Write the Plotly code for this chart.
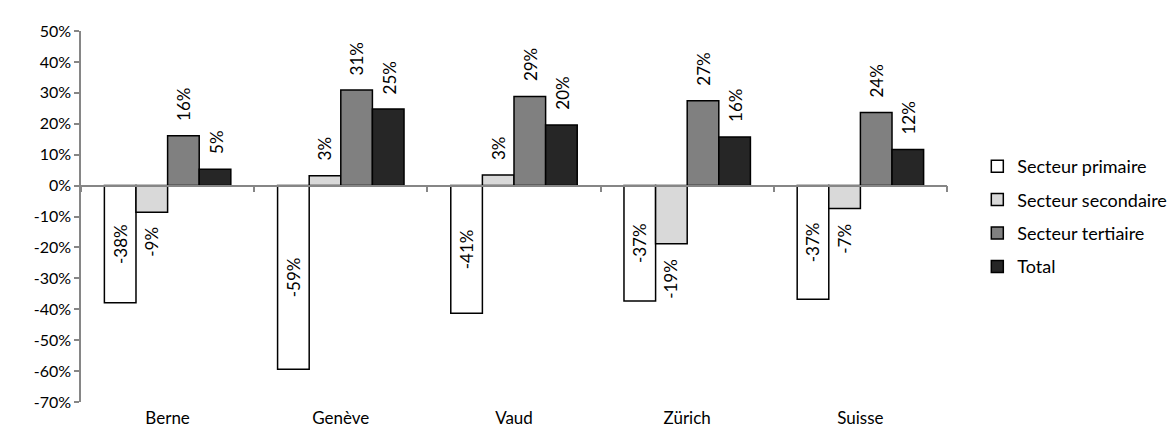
import plotly.graph_objects as go

categories = ["Berne", "Genève", "Vaud", "Zürich", "Suisse"]
series_names = ["Secteur primaire", "Secteur secondaire", "Secteur tertiaire", "Total"]
primaire = [-37.9, -59.4, -41.3, -37.3, -36.8]
secondaire = [-8.6, 3.2, 3.4, -18.8, -7.4]
tertiaire = [16.1, 30.9, 28.8, 27.4, 23.6]
total = [5.3, 24.8, 19.6, 15.7, 11.7]
series_values = [primaire, secondaire, tertiaire, total]
series_colors = ["#ffffff", "#d9d9d9", "#808080", "#262626"]
tick_values = [50, 40, 30, 20, 10, 0, -10, -20, -30, -40, -50, -60, -70]
tick_labels = ["50%", "40%", "30%", "20%", "10%", "0%", "-10%", "-20%", "-30%", "-40%", "-50%", "-60%", "-70%"]

FONT = "Lato"
W, H = 1176, 432
ML, MR, MT, MB = 73, 223, 23, 34
BARGAP = 0.27
LABEL_SIZE = 17
LABEL_GAP = 15

plot_w = W - ML - MR
cat_w = plot_w / len(categories)
bar_w = cat_w * (1 - BARGAP) / len(series_names)

fig = go.Figure()
annotations = []
for i, (name, vals, col) in enumerate(zip(series_names, series_values, series_colors)):
    labels = [f"{round(v):d}%" for v in vals]
    inside = i == 0
    fig.add_trace(go.Bar(
        x=categories, y=vals, name=name, legendgroup=name,
        marker=dict(color=col, line=dict(color="#000000", width=1.5)),
        text=labels if inside else None,
        textposition="inside" if inside else "none",
        insidetextanchor="middle",
        textangle=-90,
        textfont=dict(family=FONT, size=LABEL_SIZE, color="#000000"),
        cliponaxis=False,
    ))
    if not inside:
        offset = (i - (len(series_names) - 1) / 2) * bar_w
        for c, v, lab in zip(categories, vals, labels):
            annotations.append(dict(
                x=c, y=v, xref="x", yref="y", text=lab, showarrow=False,
                textangle=-90, xshift=offset,
                yanchor="bottom" if v >= 0 else "top",
                yshift=LABEL_GAP if v >= 0 else -LABEL_GAP,
                borderpad=0, borderwidth=0,
                font=dict(family=FONT, size=LABEL_SIZE, color="#000000"),
            ))

# axis line at zero with boundary ticks
fig.add_trace(go.Scatter(x=categories, y=[None] * len(categories), xaxis="x2", yaxis="y",
                         showlegend=False, hoverinfo="skip", mode="markers"))

rng = [-70, 50]
fig.update_layout(
    width=W, height=H,
    margin=dict(l=ML, r=MR, t=MT, b=MB),
    paper_bgcolor="white", plot_bgcolor="white",
    barmode="group", bargap=BARGAP, bargroupgap=0,
    font=dict(family=FONT, size=16, color="#000000"),
    uniformtext=dict(minsize=LABEL_SIZE, mode="show"),
    annotations=annotations,
    xaxis=dict(showline=False, ticks="", showgrid=False, zeroline=False,
               tickfont=dict(family=FONT, size=17), ticklabelstandoff=4),
    xaxis2=dict(overlaying="x", matches="x", anchor="free", position=(0 - rng[0]) / (rng[1] - rng[0]),
                showline=True, linecolor="#868686", linewidth=1.5,
                ticks="outside", tickson="boundaries", ticklen=6, tickcolor="#868686", tickwidth=1.5,
                showticklabels=False, showgrid=False, zeroline=False),
    yaxis=dict(range=rng, tickvals=tick_values, ticktext=tick_labels,
               showline=True, linecolor="#868686", linewidth=1.5,
               ticks="outside", ticklen=5, tickcolor="#868686", tickwidth=1.5,
               showgrid=False, zeroline=False, tickfont=dict(family=FONT, size=16)),
    legend=dict(x=1.035, y=0.5, yanchor="middle", xanchor="left",
                font=dict(family=FONT, size=18), tracegroupgap=7, itemwidth=30,
                bgcolor="rgba(0,0,0,0)"),
    showlegend=True,
)
fig.write_html("out.html")
